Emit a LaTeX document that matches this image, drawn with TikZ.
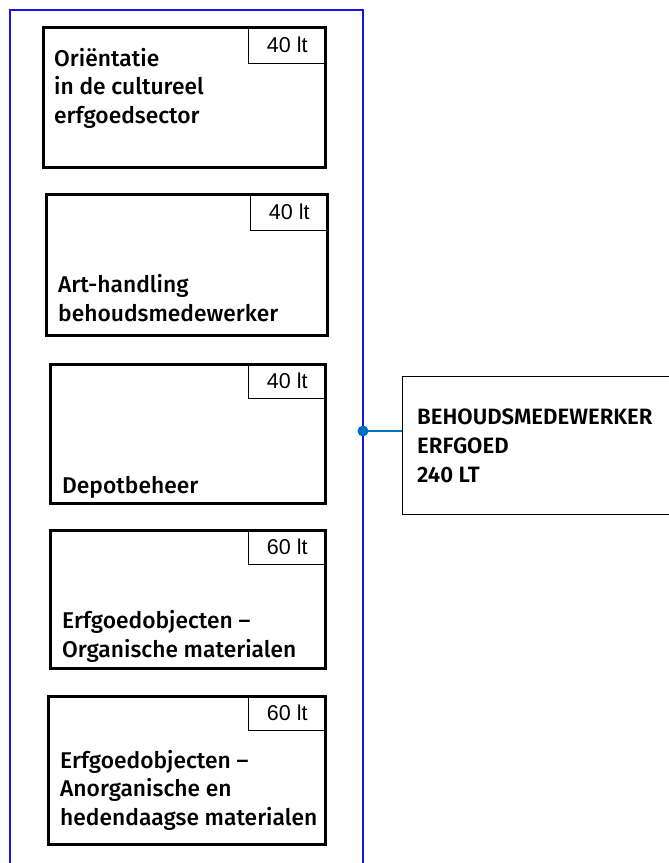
\documentclass[tikz,border=0pt]{standalone}
\usepackage{fontspec}
\setmainfont{Liberation Sans}
\newfontfamily\lblfont{Fira Sans Medium}
\newfontfamily\hdfont{Fira Sans SemiBold}
\definecolor{frameblue}{RGB}{20,20,235}
\definecolor{linkblue}{RGB}{0,112,192}
\begin{document}
\begin{tikzpicture}[x=1pt,y=-1pt,
  modbox/.style={draw=black,line width=3pt,anchor=north west,inner sep=0pt},
  tagbox/.style={draw=black,line width=1.4pt,anchor=north east,minimum width=78pt,minimum height=37pt,inner sep=0pt,font=\fontsize{21.5}{24}\selectfont},
  lbl/.style={anchor=base west,align=left,inner sep=0pt,font=\lblfont\fontsize{22.8}{28.5}\selectfont},
  hd/.style={anchor=base west,align=left,inner sep=0pt,font=\hdfont\fontsize{22.2}{29}\selectfont}]
\useasboundingbox (0,0) rectangle (669,863);
% frame
\draw[frameblue,line width=1.4pt] (10,870) -- (10,10) -- (363,10) -- (363,870);
% boxes
\node[modbox,minimum width=282pt,minimum height=140pt] (b1) at (42,26) {};
\node[modbox,minimum width=281pt,minimum height=141pt] (b2) at (45,193) {};
\node[modbox,minimum width=275pt,minimum height=139pt] (b3) at (49,363) {};
\node[modbox,minimum width=275pt,minimum height=138pt] (b4) at (49,529) {};
\node[modbox,minimum width=277pt,minimum height=148pt] (b5) at (47,695) {};
% tags
\node[tagbox] (t1) at (b1.north east) {40 lt};
\node[tagbox] (t2) at (b2.north east) {40 lt};
\node[tagbox,minimum height=35pt] (t3) at (b3.north east) {40 lt};
\node[tagbox,minimum height=35pt] (t4) at (b4.north east) {60 lt};
\node[tagbox,minimum height=35pt] (t5) at (b5.north east) {60 lt};
% labels (anchor = baseline of last line)
\node[lbl] (l1) at (54,123) {Oriëntatie\\in de cultureel\\erfgoedsector};
\node[lbl] (l2) at (58,321) {Art-handling\\behoudsmedewerker};
\node[lbl] (l3) at (62,493) {Depotbeheer};
\node[lbl] (l4) at (62,657) {Erfgoedobjecten –\\Organische materialen};
\node[lbl] (l5) at (60,825) {Erfgoedobjecten –\\Anorganische en\\hedendaagse materialen};
% target box
\node[draw=black,line width=1.4pt,anchor=north west,minimum width=275pt,minimum height=138pt,inner sep=0pt] (tg) at (402,376) {};
\node[hd] (th) at (417,482) {BEHOUDSMEDEWERKER\\ERFGOED\\240 LT};
% connector
\coordinate (dot) at (363,431);
\draw[linkblue,line width=1.4pt] (dot) -- (dot -| tg.west);
\fill[linkblue] (dot) circle (5.5pt);
\end{tikzpicture}
\end{document}
